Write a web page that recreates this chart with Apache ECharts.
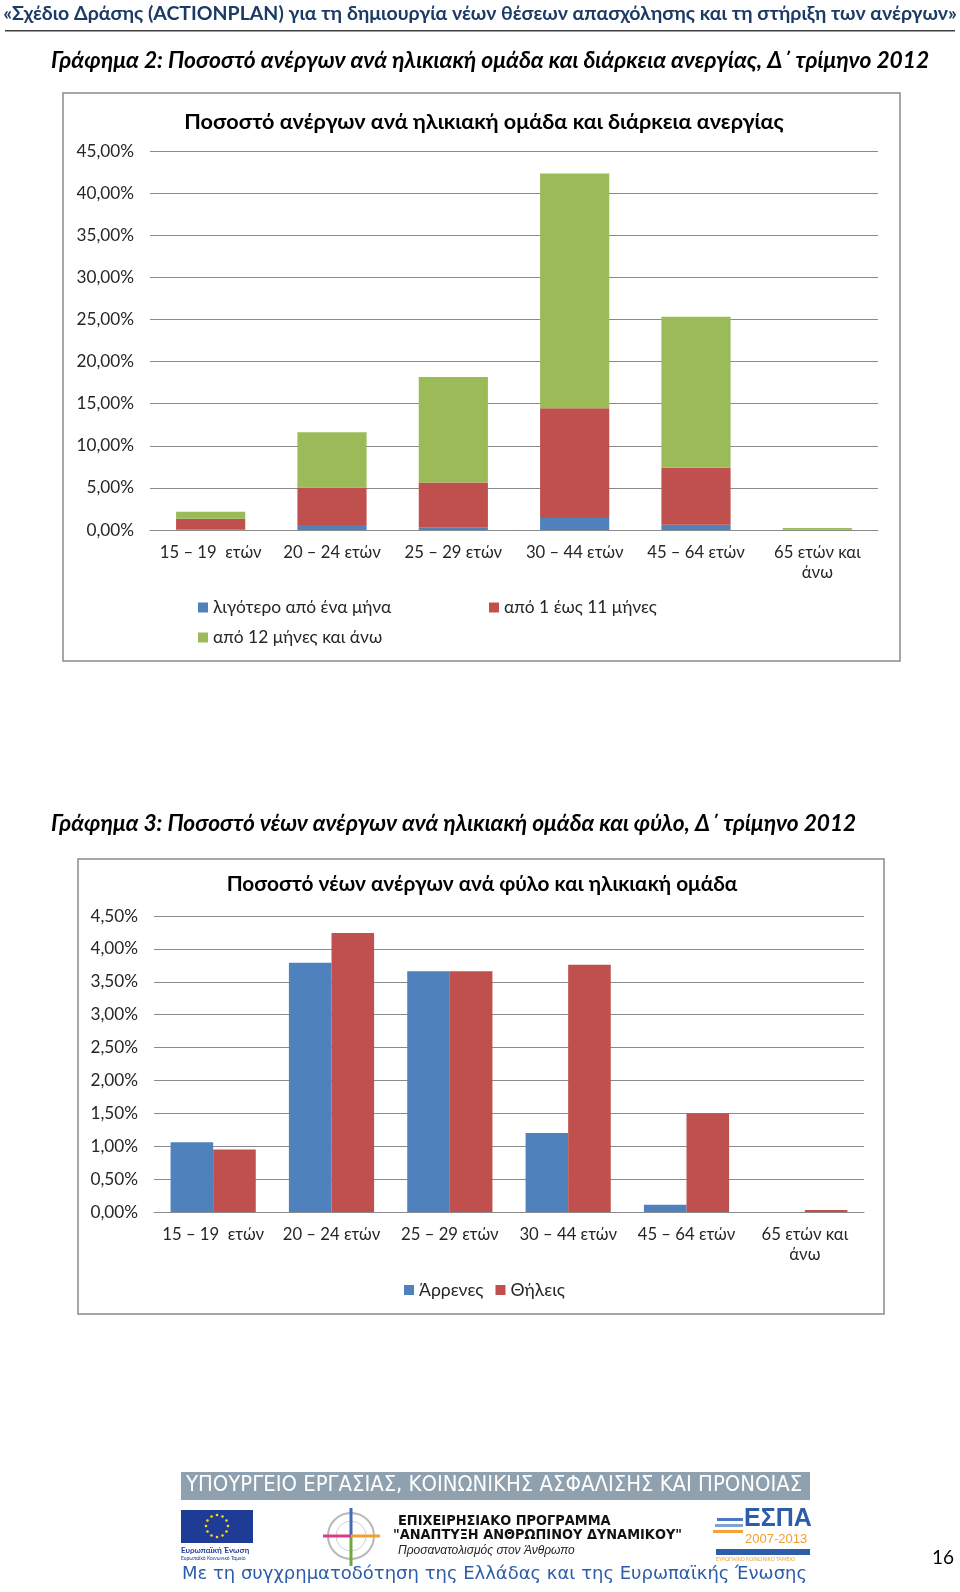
<!DOCTYPE html>
<html>
<head>
<meta charset="utf-8">
<script src="https://cdn.jsdelivr.net/npm/echarts@6/dist/echarts.min.js"></script>
<style>
html,body{margin:0;padding:0;background:#fff;}
#c{width:960px;height:1592px;}
</style>
</head>
<body>
<div id="c"></div>
<script>
// ---- Data ----
var categories = ['15 – 19  ετών', '20 – 24 ετών', '25 – 29 ετών', '30 – 44 ετών', '45 – 64 ετών', '65 ετών και\nάνω'];
var durationNames = ['λιγότερο από ένα μήνα', 'από 1 έως 11 μήνες', 'από 12 μήνες και άνω'];
var lessThanMonth = [0.05, 0.59, 0.32, 1.42, 0.63, 0.02];
var oneToElevenMonths = [1.29, 4.46, 5.33, 13.03, 6.75, 0.03];
var twelvePlusMonths = [0.83, 6.55, 12.52, 27.89, 17.95, 0.19];
var genderNames = ['Άρρενες', 'Θήλεις'];
var males = [1.06, 3.79, 3.66, 1.20, 0.11, 0];
var females = [0.95, 4.24, 3.66, 3.76, 1.50, 0.03];

var FONT = 'Lato, "Open Sans", "Noto Sans", sans-serif';
var BLUE = '#4F81BD', RED = '#C0504D', GREEN = '#9BBB59';
var GRID = '#8a8a8a';
var TXT = '#262626';
function pct(v){ return v.toFixed(2).replace('.', ',') + '%'; }

var chart = echarts.init(document.getElementById('c'), null, {renderer:'canvas'});

function catAxis(gi){
  return {type:'category', gridIndex:gi, data:categories,
    axisLine:{lineStyle:{color:GRID, width:1}}, axisTick:{show:false},
    axisLabel:{color:TXT, fontFamily:FONT, fontSize:16.7, margin:13, lineHeight:20, interval:0}};
}
function valAxis(gi, max, step){
  return {type:'value', gridIndex:gi, min:0, max:max, interval:step,
    axisLine:{show:false}, axisTick:{show:false},
    splitLine:{lineStyle:{color:GRID, width:1}},
    axisLabel:{color:TXT, fontFamily:FONT, fontSize:17.2, margin:16, formatter:pct}};
}
function legendItem(name, left, top){
  return {data:[name], left:left, top:top, itemWidth:10, itemHeight:10, icon:'rect',
    textStyle:{fontFamily:FONT, fontSize:17.4, color:TXT}, padding:0, selectedMode:false};
}

var option = {
  animation:false,
  title:[
    {text:'Ποσοστό ανέργων ανά ηλικιακή ομάδα και διάρκεια ανεργίας', left:479, top:106, textAlign:'center',
      textStyle:{fontFamily:FONT, fontSize:21.6, fontWeight:'bold', color:'#000'}},
    {text:'Ποσοστό νέων ανέργων ανά φύλο και ηλικιακή ομάδα', left:477, top:869, textAlign:'center',
      textStyle:{fontFamily:FONT, fontSize:20.8, fontWeight:'bold', color:'#000'}}
  ],
  legend:[
    legendItem(durationNames[0], 198, 599),
    legendItem(durationNames[1], 489, 599),
    legendItem(durationNames[2], 198, 629),
    {data:genderNames, left:404, top:1281, itemWidth:10, itemHeight:10, icon:'rect', itemGap:12,
      textStyle:{fontFamily:FONT, fontSize:17.6, color:TXT}, padding:0, selectedMode:false}
  ],
  grid:[
    {left:150, right:82, top:151, height:379},
    {left:154, right:96, top:916, height:296}
  ],
  xAxis:[catAxis(0), catAxis(1)],
  yAxis:[valAxis(0, 45, 5), valAxis(1, 4.5, 0.5)],
  series:[
    {name:durationNames[0], type:'bar', stack:'d', xAxisIndex:0, yAxisIndex:0, data:lessThanMonth, itemStyle:{color:BLUE}, barCategoryGap:'43%'},
    {name:durationNames[1], type:'bar', stack:'d', xAxisIndex:0, yAxisIndex:0, data:oneToElevenMonths, itemStyle:{color:RED}},
    {name:durationNames[2], type:'bar', stack:'d', xAxisIndex:0, yAxisIndex:0, data:twelvePlusMonths, itemStyle:{color:GREEN}},
    {name:genderNames[0], type:'bar', xAxisIndex:1, yAxisIndex:1, data:males, itemStyle:{color:BLUE}, barGap:'0%', barCategoryGap:'28%'},
    {name:genderNames[1], type:'bar', xAxisIndex:1, yAxisIndex:1, data:females, itemStyle:{color:RED}, barGap:'0%', barCategoryGap:'28%'}
  ],
  graphic:[
    // header
    {type:'text', left:'center', top:4, style:{text:'«Σχέδιο Δράσης (ACTIONPLAN) για τη δημιουργία νέων θέσεων απασχόλησης και τη στήριξη των ανέργων»',
      fontFamily:FONT, fontSize:19.5, fontWeight:'bold', fill:'#1B3A66'}},
    {type:'rect', shape:{x:5, y:30, width:950, height:1.5}, style:{fill:'#404040'}},
    // captions
    {type:'text', left:51, top:49, style:{text:'Γράφημα 2: Ποσοστό ανέργων ανά ηλικιακή ομάδα και διάρκεια ανεργίας, Δ΄ τρίμηνο 2012',
      fontFamily:FONT, fontSize:22.8, fontWeight:'bold', fontStyle:'italic', fill:'#000'}},
    {type:'text', left:51, top:812, style:{text:'Γράφημα 3: Ποσοστό νέων ανέργων ανά ηλικιακή ομάδα και φύλο, Δ΄ τρίμηνο 2012',
      fontFamily:FONT, fontSize:22.7, fontWeight:'bold', fontStyle:'italic', fill:'#000'}},
    // chart frames
    {type:'rect', z:-1, shape:{x:63, y:93, width:837, height:568}, style:{fill:'none', stroke:'#8a8a8a', lineWidth:1.5}},
    {type:'rect', z:-1, shape:{x:78, y:859, width:806, height:455}, style:{fill:'none', stroke:'#8a8a8a', lineWidth:1.5}},
    // footer band
    {type:'rect', shape:{x:181, y:1472, width:629, height:28}, style:{fill:'#8FA1AE'}},
    {type:'text', left:186, top:1474, style:{text:'ΥΠΟΥΡΓΕΙΟ ΕΡΓΑΣΙΑΣ, ΚΟΙΝΩΝΙΚΗΣ ΑΣΦΑΛΙΣΗΣ ΚΑΙ ΠΡΟΝΟΙΑΣ',
      fontFamily:'"Liberation Sans Narrow", "DejaVu Sans Condensed", sans-serif', fontSize:21.9, fill:'#fff'}},
    // EU flag
    {type:'rect', shape:{x:181, y:1510, width:72, height:33}, style:{fill:'#1E3B96'}},
    {type:'group', children:(function(){
      var arr=[]; for(var i=0;i<12;i++){var a=i*Math.PI/6; arr.push({type:'circle', shape:{cx:217+11*Math.cos(a), cy:1526+11*Math.sin(a), r:1.3}, style:{fill:'#FFDD00'}});} return arr; })()},
    {type:'text', left:181, top:1546, style:{text:'Ευρωπαϊκή Ένωση', fontFamily:FONT, fontSize:8, fontWeight:'bold', fill:'#1E3B96'}},
    {type:'text', left:181, top:1556, style:{text:'Ευρωπαϊκό Κοινωνικό Ταμείο', fontFamily:FONT, fontSize:5, fill:'#1E3B96'}},
    // compass logo
    {type:'circle', shape:{cx:351, cy:1536, r:23}, style:{fill:'none', stroke:'#b8b8b8', lineWidth:2}},
    {type:'circle', shape:{cx:351, cy:1536, r:15}, style:{fill:'none', stroke:'#cfcfcf', lineWidth:1}},
    {type:'line', shape:{x1:351, y1:1508, x2:351, y2:1536}, style:{stroke:'#3E6DB5', lineWidth:3}},
    {type:'line', shape:{x1:351, y1:1536, x2:351, y2:1566}, style:{stroke:'#6DAA3E', lineWidth:3}},
    {type:'line', shape:{x1:323, y1:1536, x2:351, y2:1536}, style:{stroke:'#D43D8C', lineWidth:3}},
    {type:'line', shape:{x1:351, y1:1536, x2:380, y2:1536}, style:{stroke:'#F0A030', lineWidth:3}},
    {type:'text', left:398, top:1514, style:{text:'ΕΠΙΧΕΙΡΗΣΙΑΚΟ ΠΡΟΓΡΑΜΜΑ', fontFamily:'"DejaVu Sans Condensed", sans-serif', fontSize:14.4, fontWeight:'bold', fill:'#111'}},
    {type:'text', left:393, top:1528, style:{text:'"ΑΝΑΠΤΥΞΗ ΑΝΘΡΩΠΙΝΟΥ ΔΥΝΑΜΙΚΟΥ"', fontFamily:'"DejaVu Sans Condensed", sans-serif', fontSize:14.4, fontWeight:'bold', fill:'#111'}},
    {type:'text', left:398, top:1545, style:{text:'Προσανατολισμός στον Άνθρωπο', fontFamily:'"Liberation Sans", sans-serif', fontSize:12, fontStyle:'italic', fill:'#222'}},
    // ESPA logo
    {type:'rect', shape:{x:717, y:1518, width:26, height:3}, style:{fill:'#4A78C2'}},
    {type:'rect', shape:{x:715, y:1524, width:28, height:3}, style:{fill:'#7FA3D8'}},
    {type:'rect', shape:{x:713, y:1530, width:30, height:3}, style:{fill:'#F2A33A'}},
    {type:'text', left:744, top:1507, style:{text:'ΕΣΠΑ', fontFamily:'"Liberation Sans Narrow", sans-serif', fontSize:25, fontWeight:'bold', fill:'#2C5CAA'}},
    {type:'text', left:745, top:1533, style:{text:'2007-2013', fontFamily:'"Liberation Sans Narrow", sans-serif', fontSize:13, fill:'#F0A030'}},
    {type:'rect', shape:{x:716, y:1549, width:94, height:6}, style:{fill:'#2C5CAA'}},
    {type:'text', left:716, top:1557, style:{text:'ΕΥΡΩΠΑΪΚΟ ΚΟΙΝΩΝΙΚΟ ΤΑΜΕΙΟ', fontFamily:FONT, fontSize:5, fill:'#F0A030'}},
    // co-funding line
    {type:'text', left:182, top:1565, style:{text:'Με τη συγχρηματοδότηση της Ελλάδας και της Ευρωπαϊκής Ένωσης', fontFamily:'"DejaVu Sans", sans-serif', fontSize:18, fill:'#2C5CAA'}},
    // page number
    {type:'text', left:932, top:1548, style:{text:'16', fontFamily:FONT, fontSize:19, fill:'#000'}}
  ]
};
chart.setOption(option);
</script>
</body>
</html>
